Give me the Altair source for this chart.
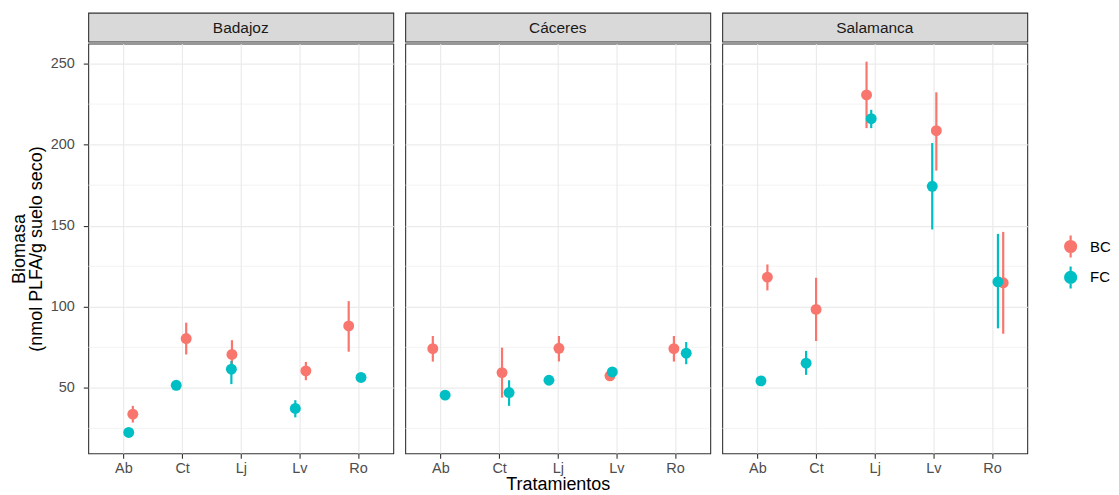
import altair as alt
import pandas as pd

regions = ["Badajoz", "Cáceres", "Salamanca"]
treatments = ["Ab", "Ct", "Lj", "Lv", "Ro"]
groups = ["BC", "FC"]
colors = ["#F8766D", "#00BFC4"]

# mean, lower, upper, horizontal jitter (in category units), per region and group
bad_bc = [33.8, 80.4, 70.6, 60.5, 88.2]
bad_bc_lo = [28.6, 70.6, 62.5, 54.7, 72.3]
bad_bc_hi = [38.9, 90.2, 79.4, 66.0, 103.5]
bad_bc_jit = [0.16, 0.07, -0.15, 0.11, -0.16]
bad_fc = [22.5, 51.6, 61.5, 37.3, 56.4]
bad_fc_lo = [21.0, 50.0, 52.3, 31.8, 54.8]
bad_fc_hi = [24.0, 53.2, 66.6, 42.4, 58.0]
bad_fc_jit = [0.09, -0.10, -0.16, -0.07, 0.05]

cac_bc = [74.2, 59.4, 74.4, 57.4, 74.2]
cac_bc_lo = [66.2, 44.0, 66.3, 55.5, 66.2]
cac_bc_hi = [82.0, 74.8, 82.0, 59.3, 82.0]
cac_bc_jit = [-0.13, 0.05, 0.02, -0.11, -0.02]
cac_fc = [45.5, 47.1, 54.7, 59.8, 71.4]
cac_fc_lo = [44.0, 38.9, 53.2, 58.0, 64.6]
cac_fc_hi = [47.0, 54.7, 56.2, 61.6, 78.3]
cac_fc_jit = [0.08, 0.17, -0.15, -0.07, 0.19]

sal_bc = [118.3, 98.4, 230.7, 208.6, 114.8]
sal_bc_lo = [110.1, 78.9, 210.2, 184.0, 83.4]
sal_bc_hi = [126.1, 117.9, 251.2, 232.3, 146.2]
sal_bc_jit = [0.17, 0.0, -0.14, 0.05, 0.19]
sal_fc = [54.3, 65.2, 216.0, 174.3, 115.4]
sal_fc_lo = [52.8, 58.0, 210.2, 147.7, 86.7]
sal_fc_hi = [55.8, 72.8, 221.5, 201.0, 145.0]
sal_fc_jit = [0.06, -0.17, -0.06, -0.02, 0.10]

y_major = [50, 100, 150, 200, 250]
y_minor = [25, 75, 125, 175, 225]
y_domain = [9.6, 262.3]

series = [
    ("Badajoz", "BC", bad_bc, bad_bc_lo, bad_bc_hi, bad_bc_jit),
    ("Badajoz", "FC", bad_fc, bad_fc_lo, bad_fc_hi, bad_fc_jit),
    ("Cáceres", "BC", cac_bc, cac_bc_lo, cac_bc_hi, cac_bc_jit),
    ("Cáceres", "FC", cac_fc, cac_fc_lo, cac_fc_hi, cac_fc_jit),
    ("Salamanca", "BC", sal_bc, sal_bc_lo, sal_bc_hi, sal_bc_jit),
    ("Salamanca", "FC", sal_fc, sal_fc_lo, sal_fc_hi, sal_fc_jit),
]
rows = []
for reg, grp, m, lo, hi, jit in series:
    for i, t in enumerate(treatments):
        rows.append({"region": reg, "group": grp, "treat": t,
                     "xpos": i + 1 + jit[i], "value": m[i], "lo": lo[i], "hi": hi[i]})
df = pd.DataFrame(rows)
minor_df = pd.DataFrame({"v": y_minor})

FONT = "Liberation Sans"
PW, PH, SH = 306, 411, 29
label_expr = "[" + ",".join("'%s'" % t for t in treatments) + "][datum.value - 1]"
legend_path = "M-0.5,0 A0.5,0.5 0 1,0 0.5,0 A0.5,0.5 0 1,0 -0.5,0 Z M0,-1 L0,1"

yscale = alt.Scale(domain=y_domain, nice=False, zero=False)
xscale = alt.Scale(domain=[0.4, 5.6], nice=False, zero=False)
cscale = alt.Scale(domain=groups, range=colors)
legend = alt.Legend(title=None, orient="none", legendX=973, legendY=222,
                    symbolType=legend_path, symbolSize=484, symbolStrokeWidth=2.2,
                    symbolOpacity=1, labelFontSize=15, labelColor="#000000",
                    labelFont=FONT, rowPadding=0, labelOffset=7, padding=0)


def panel(idx, name):
    if idx == 0:
        yaxis = alt.Axis(values=y_major, grid=True, gridColor="#EBEBEB", gridWidth=1.2,
                         domain=False, tickColor="#333333", tickSize=5, tickWidth=1.1,
                         labelPadding=9, labelFontSize=14.5, labelColor="#4D4D4D",
                         title=["Biomasa", "(nmol PLFA/g suelo seco)"], titleFontSize=18,
                         titleLineHeight=16.5, titleFontWeight="normal", titleColor="#000000",
                         titlePadding=5)
    else:
        yaxis = alt.Axis(values=y_major, grid=True, gridColor="#EBEBEB", gridWidth=1.2,
                         domain=False, ticks=False, labels=False, title=None)
    xaxis = alt.Axis(values=[1, 2, 3, 4, 5], labelExpr=label_expr, grid=True,
                     gridColor="#EBEBEB", gridWidth=1.2, domain=False, tickColor="#333333",
                     tickSize=5, tickWidth=1.1, labelPadding=3, labelFontSize=14.5,
                     labelColor="#4D4D4D", labelAngle=0,
                     title="Tratamientos" if idx == 1 else None, titleFontSize=18,
                     titleFontWeight="normal", titleColor="#000000", titlePadding=1)
    base = alt.Chart(df).transform_filter(alt.datum.region == name)
    minor = alt.Chart(minor_df).mark_rule(color="#EBEBEB", strokeWidth=0.6).encode(
        y=alt.Y("v:Q", scale=yscale, axis=yaxis))
    bars = base.mark_rule(strokeWidth=2.2).encode(
        x=alt.X("xpos:Q", scale=xscale, axis=xaxis),
        y=alt.Y("lo:Q", scale=yscale),
        y2="hi:Q",
        stroke=alt.Stroke("group:N", scale=cscale, legend=legend),
    )
    pts = base.mark_point(filled=True, size=120, opacity=1, strokeWidth=0).encode(
        x=alt.X("xpos:Q", scale=xscale),
        y=alt.Y("value:Q", scale=yscale),
        fill=alt.Fill("group:N", scale=cscale, legend=legend),
        stroke=alt.Stroke("group:N", scale=cscale, legend=legend),
    )
    plot = alt.layer(minor, bars, pts).properties(
        width=PW, height=PH,
        view=alt.ViewBackground(fill="#FFFFFF", stroke="#333333", strokeWidth=1.1))
    strip = alt.Chart(pd.DataFrame({"r": [name]})).mark_text(
        font=FONT, fontSize=15.5, color="#1A1A1A", baseline="middle", align="center"
    ).encode(text="r:N", x=alt.value(PW / 2), y=alt.value(SH / 2 + 0.5)).properties(
        width=PW, height=SH,
        view=alt.ViewBackground(fill="#D9D9D9", stroke="#333333", strokeWidth=1.1))
    return alt.vconcat(strip, plot, spacing=0)


chart = alt.hconcat(*[panel(i, r) for i, r in enumerate(regions)], spacing=10).properties(
    padding={"left": 1.5, "top": 3, "right": 0, "bottom": 0}
).configure(font=FONT).configure_concat(spacing=10)

chart.save("out.html", embed_options={"renderer": "svg", "actions": False})
